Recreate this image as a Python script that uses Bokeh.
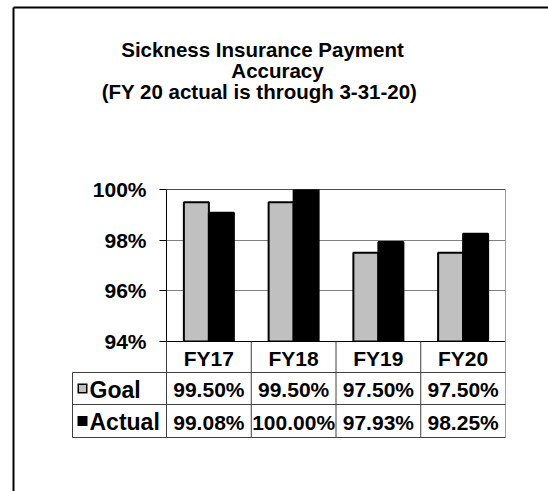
from bokeh.plotting import figure
from bokeh.models import (FactorRange, Range1d, FixedTicker, PrintfTickFormatter,
                          ColumnDataSource, Span)
from bokeh.transform import dodge
from bokeh.core.properties import value
from bokeh.embed import file_html
from bokeh.resources import INLINE

# ---------------- data ----------------
categories = ["FY17", "FY18", "FY19", "FY20"]
series_names = ["Goal", "Actual"]
series_colors = ["#C0C0C0", "black"]
goal = [99.50, 99.50, 97.50, 97.50]
actual = [99.08, 100.00, 97.93, 98.25]
y_ticks = [94, 96, 98, 100]
title_lines = ["Sickness Insurance Payment", "Accuracy", "(FY 20 actual is through 3-31-20)"]

# ---------------- layout (canvas px) ----------------
W, H = 548, 491
FL, FR, FT, FB = 166, 505, 189, 341
Y0, Y1 = 94, 100
FONT = "Liberation Sans"

ppx = (FR - FL) / len(categories)
ppy = (FB - FT) / (Y1 - Y0)


def cx(px):
    return (px - FL) / ppx


def cy(py):
    return Y0 + (FB - py) / ppy


p = figure(width=W, height=H, x_range=FactorRange(*categories), y_range=Range1d(Y0, Y1),
           output_backend="svg", toolbar_location=None,
           min_border_left=FL, min_border_right=W - FR,
           min_border_top=FT, min_border_bottom=H - FB)
p.background_fill_color = "white"
p.border_fill_color = "white"
p.outline_line_color = "#A0A0A0"

# bars
bw = 0.295
src = ColumnDataSource(dict(cat=categories, goal=goal, actual=actual))
p.vbar(x=dodge("cat", -bw / 2, range=p.x_range), top="goal", bottom=Y0, width=bw,
       source=src, fill_color=series_colors[0], line_color="black", line_width=2)
p.vbar(x=dodge("cat", bw / 2, range=p.x_range), top="actual", bottom=Y0, width=bw,
       source=src, fill_color=series_colors[1], line_color="black", line_width=2)

# axes / grid
p.yaxis.ticker = FixedTicker(ticks=y_ticks)
p.yaxis.formatter = PrintfTickFormatter(format="%d%%")
p.yaxis.major_tick_out = 7
p.yaxis.major_tick_in = 0
p.yaxis.minor_tick_line_color = None
p.yaxis.axis_line_color = "black"
p.yaxis.major_tick_line_color = "black"
p.yaxis.major_label_standoff = 13
p.yaxis.major_label_text_font = FONT
p.yaxis.major_label_text_font_style = "bold"
p.yaxis.major_label_text_font_size = "21px"
p.yaxis.major_label_text_color = "black"

p.xaxis.major_tick_line_color = None
p.xaxis.minor_tick_line_color = None
p.xaxis.major_tick_out = 0
p.xaxis.axis_line_color = "black"
p.xaxis.major_label_standoff = 5
p.xaxis.major_label_text_font = FONT
p.xaxis.major_label_text_font_style = "bold"
p.xaxis.major_label_text_font_size = "21px"
p.xaxis.major_label_text_color = "black"

p.xgrid.grid_line_color = None
p.ygrid.ticker = FixedTicker(ticks=[96, 98])
p.ygrid.grid_line_color = "#808080"
p.add_layout(Span(location=Y1, dimension="width", line_color="black", line_width=1))

# ---------------- data table under the chart ----------------
n = len(categories)
row_tops = [372, 404]        # canvas px of row boundaries
row_bottom = 437
row_mid = [(row_tops[0] + row_tops[1]) / 2, (row_tops[1] + row_bottom) / 2]
row_y = [cy(m + 1) for m in row_mid]
left_x = cx(72)

tab_lines = dict(
    xs=[[i, i] for i in range(n)] + [[n, n], [left_x, left_x],
        [left_x, n], [left_x, n], [left_x, n]],
    ys=[[Y0, cy(row_bottom)] for _ in range(n)] + [[Y0, cy(row_bottom)], [cy(row_tops[0]), cy(row_bottom)],
        [cy(row_tops[0])] * 2, [cy(row_tops[1])] * 2, [cy(row_bottom)] * 2],
    color=["#404040"] * n + ["#A0A0A0", "#404040", "#404040", "#404040", "#404040"],
)
p.multi_line(xs="xs", ys="ys", line_color="color", line_width=1,
             source=ColumnDataSource(tab_lines), level="overlay")

for vals, yy in zip([goal, actual], row_y):
    p.text(x=categories, y=[yy] * n, text=[f"{v:.2f}%" for v in vals],
           text_align="center", text_baseline="middle", text_font=value(FONT),
           text_font_style="bold", text_font_size="21px", text_color="black", level="overlay")

# legend keys: black 10px square, grey inner fill for Goal (thick butt-capped strokes)
key_l, key_r = 77, 87
p.multi_line(xs=[[cx(key_l), cx(key_r)]] * 2, ys=[[cy(m)] * 2 for m in row_mid],
             line_color="black", line_width=10, line_cap="butt", level="overlay")
p.multi_line(xs=[[cx(key_l + 1.5), cx(key_r - 1.5)]], ys=[[cy(row_mid[0])] * 2],
             line_color=series_colors[0], line_width=7, line_cap="butt", level="overlay")
p.text(x=[cx(89)] * 2, y=row_y, text=series_names, text_align="left", text_baseline="middle",
       text_font=value(FONT), text_font_style="bold", text_font_size="23px",
       text_color="black", level="overlay")

# ---------------- title ----------------
title_x = [cx(262), cx(277), cx(259)]
title_y = [cy(49), cy(70), cy(91)]
p.text(x=title_x, y=title_y, text=title_lines, text_align="center", text_baseline="alphabetic",
       text_font=value(FONT), text_font_style="bold", text_font_size="20.5px",
       text_color="black", level="overlay")

# ---------------- outer frame ----------------
p.multi_line(xs=[[cx(13), cx(13)], [cx(13), cx(W + 5)]],
             ys=[[cy(7), cy(H + 5)], [cy(7), cy(7)]],
             line_color="black", line_width=2, level="overlay")

open("out.html", "w").write(file_html(p, INLINE))
